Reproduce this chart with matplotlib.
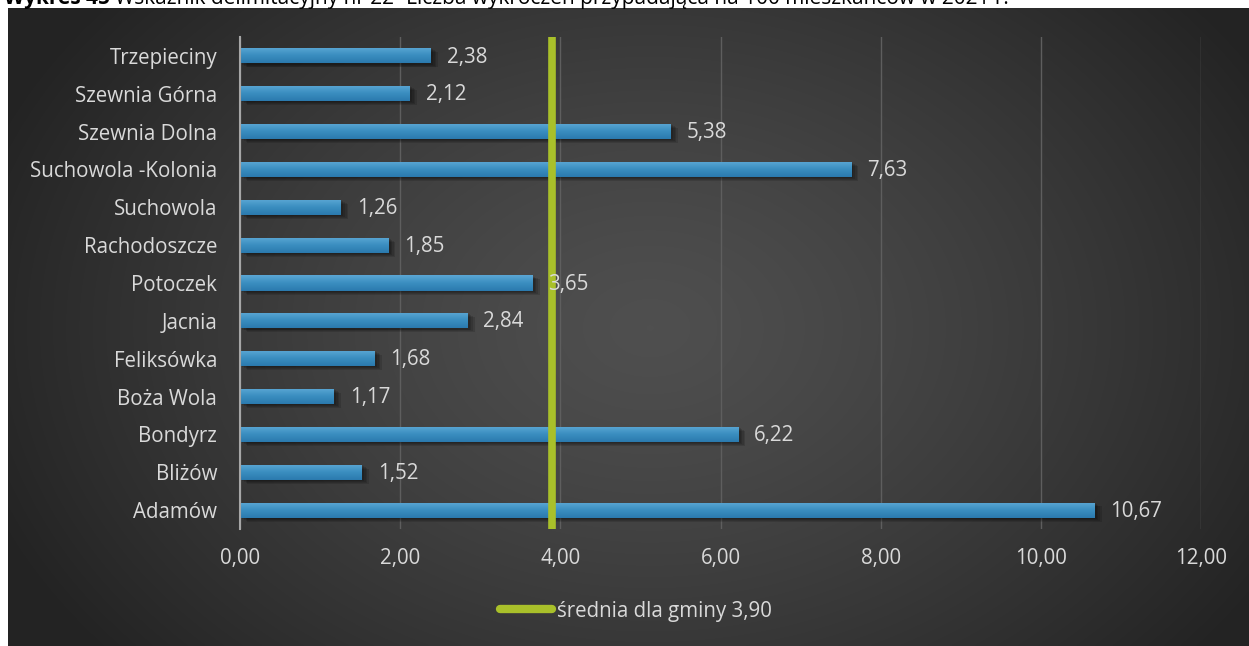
import numpy as np
import matplotlib
matplotlib.use("Agg")
import matplotlib.pyplot as plt
from matplotlib.colors import LinearSegmentedColormap
from matplotlib.lines import Line2D

categories = ["Adamów", "Bliżów", "Bondyrz", "Boża Wola", "Feliksówka", "Jacnia",
              "Potoczek", "Rachodoszcze", "Suchowola", "Suchowola -Kolonia",
              "Szewnia Dolna", "Szewnia Górna", "Trzepieciny"]
values = [10.67, 1.52, 6.22, 1.17, 1.68, 2.84, 3.65, 1.85, 1.26, 7.63, 5.38, 2.12, 2.38]
average = 3.90
xticks = [0, 2, 4, 6, 8, 10, 12]
legend_label = "średnia dla gminy 3,90"
title_bold = "Wykres 45 "
title_rest = "Wskaźnik delimitacyjny nr 22 -Liczba wykroczeń przypadająca na 100 mieszkańców w 2021 r."

def fmt(v):
    return f"{v:.2f}".replace(".", ",")

FONT = ['Open Sans', 'DejaVu Sans']
FS = 14.8
plt.rcParams['font.family'] = FONT
W, H = 1249, 646
fig = plt.figure(figsize=(W / 100, H / 100), dpi=100)
fig.patch.set_facecolor("white")

# background panel with radial gradient
bg = fig.add_axes([8 / W, 0, 1 - 8 / W, 1 - 8 / H])
bg.set_axis_off()
yy, xx = np.mgrid[0:300, 0:600]
cx, cy = 310, 150
r = np.sqrt(((xx - cx) / 340) ** 2 + ((yy - cy) / 240) ** 2)
r = np.clip(r, 0, 1)
vals = 0.31 - 0.17 * r ** 1.3
bg.imshow(np.dstack([vals, vals, vals]), aspect="auto", extent=[0, 1, 0, 1], interpolation="bilinear")
bg.set_xlim(0, 1)
bg.set_ylim(0, 1)

# title (cut off at top as in the source)
TFS = 15
t1 = fig.text(4 / W, 1 - 4 / H, title_bold, fontsize=TFS, fontweight="bold", color="black",
              va="baseline", ha="left", family=["Open Sans", "DejaVu Sans"], zorder=0)
fig.canvas.draw()
bb = t1.get_window_extent()
fig.text(bb.x1 / W, 1 - 4 / H, title_rest, fontsize=TFS, color="black",
         va="baseline", ha="left", family=["Open Sans", "DejaVu Sans"], zorder=0)

ax = fig.add_axes([240 / W, 1 - 529 / H, (1201 - 240) / W, (529 - 37) / H])
ax.patch.set_alpha(0)
ypos = np.arange(len(categories))
h = 0.40
bar_cmap = LinearSegmentedColormap.from_list("b", ["#5ba7d4", "#3a8ec0", "#2b7aae"])
grad = np.linspace(0, 1, 50).reshape(-1, 1)

# soft shadows
for k in range(4):
    off = 0.03 + 0.025 * k
    ax.barh(ypos - off, values, height=h, left=0.03 + 0.02 * k, color="black",
            alpha=0.13, zorder=2, linewidth=0)
bars = ax.barh(ypos, values, height=h, color="#3a8ec0", zorder=3, linewidth=0)
for b, v, y in zip(bars, values, ypos):
    im = ax.imshow(grad, cmap=bar_cmap, aspect="auto",
                   extent=[0, v, y - h / 2, y + h / 2], zorder=3.5, origin="upper")
    im.set_clip_path(b)
    ax.text(v + 0.2, y - 0.03, fmt(v), color="#d9d9d9", fontsize=FS, va="center", ha="left", zorder=5)

ax.axvline(average, color="#a9c02a", linewidth=5.5, zorder=4, solid_capstyle="butt")

ax.set_xlim(0, 12)
ax.set_ylim(-0.5, len(categories) - 0.5)
ax.set_xticks(xticks)
ax.set_xticklabels([fmt(x) for x in xticks])
ax.set_yticks(ypos)
ax.set_yticklabels(categories)
ax.tick_params(axis="both", colors="#d9d9d9", labelsize=FS, length=0)
ax.tick_params(axis="x", pad=14)
ax.tick_params(axis="y", pad=16.5)
ax.grid(axis="x", color="#5e5e5e", linewidth=1, zorder=0)
ax.set_axisbelow(True)
for s in ["top", "right", "bottom"]:
    ax.spines[s].set_visible(False)
ax.spines["left"].set_color("#a6a6a6")
ax.spines["left"].set_linewidth(1.5)
ax.spines["left"].set_zorder(6)

# legend
handle = Line2D([0], [0], color="#a9c02a", linewidth=6, solid_capstyle="round")
leg = fig.legend([handle], [legend_label], loc="center", bbox_to_anchor=(636 / W, 1 - 611 / H),
                 frameon=False, fontsize=FS, labelcolor="#d9d9d9", handlelength=2.5,
                 handletextpad=0.25)

fig.savefig("out.png", dpi=100, facecolor=fig.get_facecolor())
